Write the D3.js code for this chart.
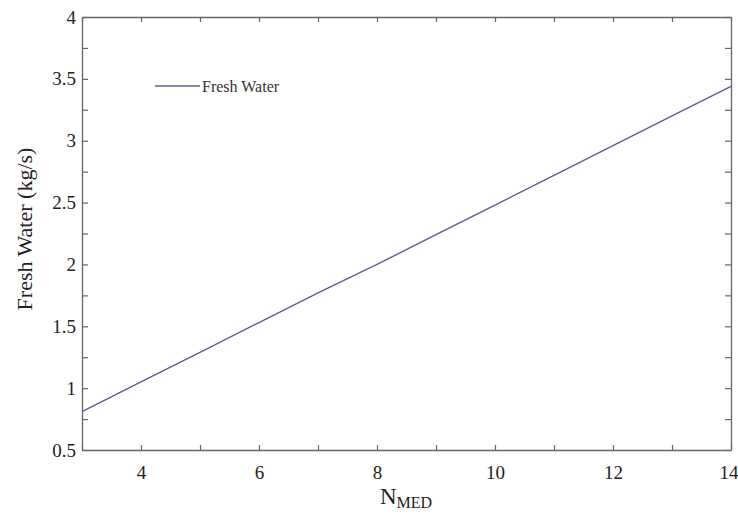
<!DOCTYPE html>
<html><head><meta charset="utf-8">
<script src="https://cdn.jsdelivr.net/npm/d3@7"></script>
<style>body{margin:0;background:#fff}svg{display:block}</style>
</head><body>
<svg id="c" width="738" height="514"></svg>
<script>
const nValues = [3,4,5,6,7,8,9,10,11,12,13,14];
const freshWater = [0.81,1.05,1.29,1.53,1.77,2.00,2.24,2.48,2.72,2.96,3.20,3.44];
const xTicks = [4,6,8,10,12,14];
const yTicks = [0.5,1,1.5,2,2.5,3,3.5,4];
const seriesName = "Fresh Water";

const svg = d3.select("#c");
const L=82,R=731,T=17,B=450;
const x = d3.scaleLinear().domain([3,14]).range([L,R]);
const y = d3.scaleLinear().domain([0.5,4]).range([B,T]);
const axisCol = "#666";
const font = "Liberation Serif, Times New Roman, serif";

const xMinor = d3.range(3,14.01,1);
const yMinor = d3.range(0.5,4.01,0.25);

function style(g){
  g.attr("font-family",font);
  g.select(".domain").attr("stroke",axisCol).attr("stroke-width",1.3);
  g.selectAll(".tick line").attr("stroke",axisCol).attr("stroke-width",1.2);
  g.selectAll("text").attr("font-family",font).attr("font-size",19).attr("fill","#222");
}
// bottom
svg.append("g").attr("transform",`translate(0,${B})`)
  .call(d3.axisBottom(x).tickValues(xMinor).tickSize(-5).tickSizeOuter(0).tickFormat(d=>xTicks.includes(d)?d:""))
  .call(style).call(g=>g.selectAll("text").attr("dy","1.35em"))
  .call(g=>g.selectAll(".tick").filter(d=>d===14).select("text").attr("text-anchor","end").attr("x",7));
// top
svg.append("g").attr("transform",`translate(0,${T})`)
  .call(d3.axisTop(x).tickValues(xMinor).tickSize(-5).tickSizeOuter(0).tickFormat(""))
  .call(style);
// left
svg.append("g").attr("transform",`translate(${L},0)`)
  .call(d3.axisLeft(y).tickValues(yMinor).tickSize(-6).tickSizeOuter(0).tickFormat(d=>yTicks.includes(d)?d:""))
  .call(style).call(g=>g.selectAll("text").attr("x",-6));
// right
svg.append("g").attr("transform",`translate(${R},0)`)
  .call(d3.axisRight(y).tickValues(yMinor).tickSize(-6).tickSizeOuter(0).tickFormat(""))
  .call(style);

const line = d3.line().x((d,i)=>x(nValues[i])).y(d=>y(d));
svg.append("path").datum(freshWater).attr("d",line)
  .attr("fill","none").attr("stroke","#5c5c9e").attr("stroke-width",1.4);

// legend
svg.append("line").attr("x1",155).attr("x2",200).attr("y1",86).attr("y2",86)
  .attr("stroke","#5c5c9e").attr("stroke-width",1.4);
svg.append("text").attr("x",202).attr("y",92).text(seriesName)
  .attr("font-family",font).attr("font-size",16).attr("fill","#333");

// axis titles
svg.append("text").attr("transform","translate(32,229) rotate(-90)")
  .attr("text-anchor","middle").attr("font-family",font).attr("font-size",22).attr("fill","#222")
  .text("Fresh Water (kg/s)");
const xt = svg.append("text").attr("x",406).attr("y",504).attr("text-anchor","middle")
  .attr("font-family",font).attr("fill","#222");
xt.append("tspan").attr("font-size",23).text("N");
xt.append("tspan").attr("font-size",16).attr("dy",4).text("MED");
</script>
</body></html>
